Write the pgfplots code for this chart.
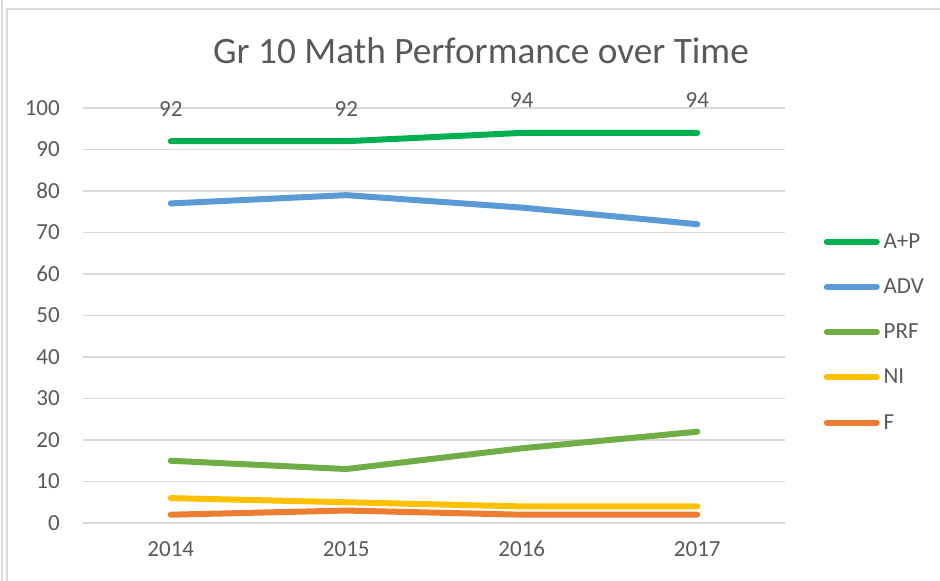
\documentclass[border=0pt]{standalone}
\usepackage{pgfplots}
\pgfplotsset{compat=1.18}
\usepackage{fontspec}
\setmainfont{Carlito}
\definecolor{ap}{HTML}{00B050}
\definecolor{adv}{HTML}{5B9BD5}
\definecolor{prf}{HTML}{70AD47}
\definecolor{ni}{HTML}{FFC000}
\definecolor{ff}{HTML}{ED7D31}
\definecolor{txt}{HTML}{595959}
\definecolor{gridc}{HTML}{D9D9D9}
\begin{document}
\begin{tikzpicture}[x=1pt,y=1pt]
\path[use as bounding box] (0,0) rectangle (940,581);
\draw[gridc, line width=1.2pt] (2,0) -- (2,581);
\draw[gridc, line width=1.2pt] (7,0) -- (7,572) -- (940,572);
\node[anchor=base, text=txt, font=\fontsize{37.3}{40}\selectfont] at (481,517) {Gr 10 Math Performance over Time};
\begin{axis}[
  at={(83pt,58pt)}, anchor=south west,
  scale only axis, width=702pt, height=415pt,
  xmin=-0.5, xmax=3.5, ymin=0, ymax=100,
  xtick={0,1,2,3}, xticklabels={2014,2015,2016,2017},
  ytick={0,10,...,100},
  ymajorgrids, grid style={gridc, line width=1.2pt},
  axis line style={draw=none},
  major tick length=0pt,
  tick label style={font=\fontsize{23}{26}\selectfont, text=txt, inner sep=0pt},
  /pgf/number format/assume math mode=true,
  yticklabel shift=23pt,
  xticklabel shift=18pt,
  clip=false,
  legend style={at={(1.055,0.46)}, anchor=west, draw=none, fill=none,
    font=\fontsize{23}{26}\selectfont, text=txt, row sep=29pt, inner sep=0pt,
    nodes={inner sep=0pt}},
  legend cell align=left,
  legend image code/.code={\draw[#1, line cap=round] (0pt,0pt) -- (50pt,0pt);},
  every axis plot/.append style={line width=6pt, line cap=round, line join=round, mark=none},
]
\addplot[ap, nodes near coords, every node near coord/.append style={anchor=base, yshift=25pt, font=\fontsize{23}{26}\selectfont, text=txt}] coordinates {(0,92) (1,92) (2,94) (3,94)};
\addlegendentry{\,A+P}
\addplot[adv] coordinates {(0,77) (1,79) (2,76) (3,72)};
\addlegendentry{\,ADV}
\addplot[prf] coordinates {(0,15) (1,13) (2,18) (3,22)};
\addlegendentry{\,PRF}
\addplot[ni] coordinates {(0,6) (1,5) (2,4) (3,4)};
\addlegendentry{\,NI}
\addplot[ff] coordinates {(0,2) (1,3) (2,2) (3,2)};
\addlegendentry{\,F}
\end{axis}
\end{tikzpicture}
\end{document}
